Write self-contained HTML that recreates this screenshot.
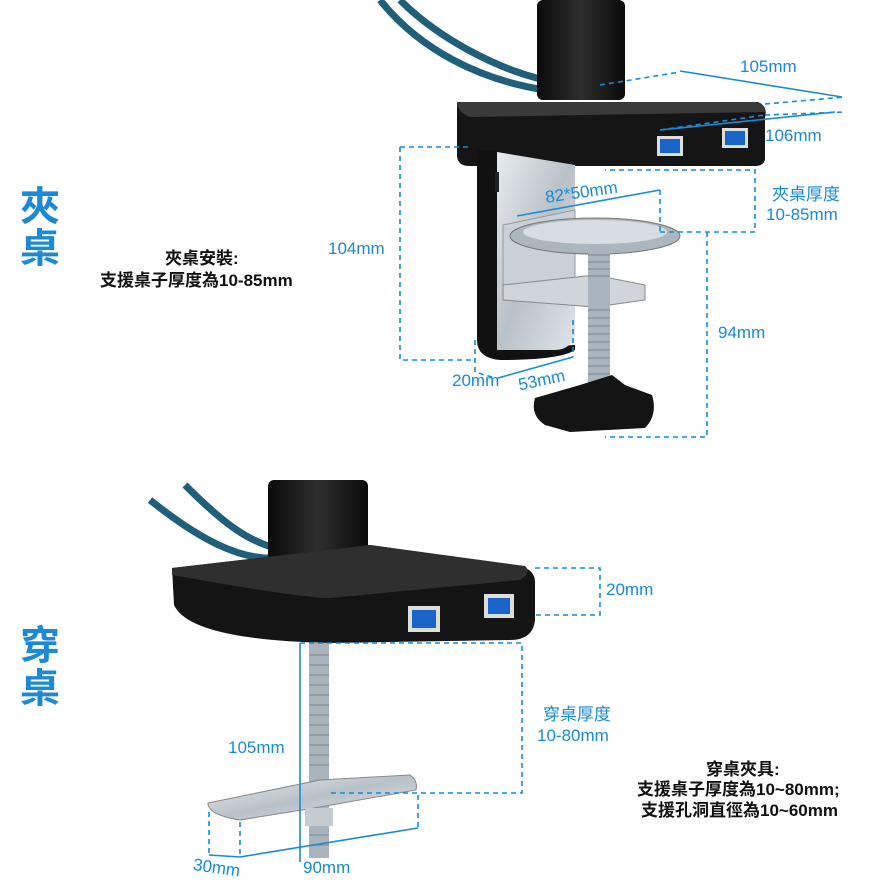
<!DOCTYPE html>
<html><head><meta charset="utf-8"><style>
html,body{margin:0;padding:0;background:#fff;width:885px;height:885px;overflow:hidden}
svg{display:block}
.b{fill:#1a8ad6;font-family:"Liberation Sans","Noto Sans CJK TC",sans-serif;font-size:17px}
.k{fill:#111;font-family:"Liberation Sans","Noto Sans CJK TC",sans-serif;font-size:17px;font-weight:bold}
.big{fill:#1a8ad6;font-family:"Noto Sans CJK TC",sans-serif;font-size:40px;font-weight:bold}
.d{stroke:#1a8ad6;stroke-width:1.6;fill:none;stroke-dasharray:5,4}
.s{stroke:#1a8ad6;stroke-width:1.6;fill:none}
</style></head><body>
<svg width="885" height="885" viewBox="0 0 885 885">
<defs>
<linearGradient id="met" x1="0" y1="0" x2="1" y2="1"><stop offset="0" stop-color="#e8ecef"/><stop offset=".5" stop-color="#b9c1c8"/><stop offset="1" stop-color="#dfe4e8"/></linearGradient>
<linearGradient id="blk" x1="0" y1="0" x2="1" y2="0"><stop offset="0" stop-color="#0a0a0a"/><stop offset=".5" stop-color="#2e2e2e"/><stop offset="1" stop-color="#0a0a0a"/></linearGradient>
</defs>
<text class="big" x="20" y="220">夾</text><text class="big" x="20" y="262">桌</text>
<text class="big" x="20" y="659">穿</text><text class="big" x="20" y="702">桌</text>
<text class="k" x="165" y="264">夾桌安裝:</text>
<text class="k" x="100" y="286">支援桌子厚度為10-85mm</text>

<path d="M380,0 C420,50 480,80 545,90" stroke="#1f5f7a" stroke-width="7" fill="none"/>
<path d="M400,0 C440,40 500,70 545,80" stroke="#1f5f7a" stroke-width="7" fill="none"/>
<rect x="537" y="0" width="88" height="100" rx="6" fill="url(#blk)"/>
<path d="M457,102 L758,102 Q768,106 765,118 L765,160 Q763,166 755,166 L470,166 Q457,166 457,155 Z" fill="#151515"/>
<path d="M457,102 L755,102 Q766,104 765,112 L470,117 Q458,113 457,102Z" fill="#3a3a3a"/>
<rect x="657" y="136" width="26" height="20" fill="#ddd"/><rect x="660" y="139" width="20" height="14" fill="#1a63c9"/>
<rect x="722" y="128" width="26" height="20" fill="#ddd"/><rect x="725" y="131" width="20" height="14" fill="#1a63c9"/>
<path d="M477,150 L497,150 L497,350 L575,345 L575,350 Q560,360 500,360 Q477,358 477,340 Z" fill="#111"/>
<path d="M497,152 L575,165 L575,335 Q570,350 555,350 L497,350 Z" fill="url(#met)"/>
<rect x="495" y="172" width="4" height="20" fill="#222"/>
<path d="M503,225 L575,210 L575,290 L503,290 Z" fill="#c9d0d6" stroke="#999"/>
<ellipse cx="595" cy="236" rx="85" ry="18" fill="#aeb6bd" stroke="#777"/>
<ellipse cx="595" cy="232" rx="72" ry="12" fill="#d7dde2"/>
<path d="M503,285 L595,275 L645,285 L645,300 L595,307 L503,300 Z" fill="#cfd5da" stroke="#888"/>
<rect x="588" y="245" width="22" height="140" fill="#aab4bd"/>
<g stroke="#7b8791" stroke-width="1"><path d="M588,255h22M588,262h22M588,269h22M588,276h22M588,310h22M588,318h22M588,326h22M588,334h22M588,342h22M588,350h22M588,358h22M588,366h22M588,374h22"/></g>
<path d="M580,385 L612,375 L625,385 L652,395 Q658,415 645,428 L570,432 L545,425 Q530,415 535,398 L580,385Z" fill="#141414"/>
<path class="d" d="M600,85 L680,72 M765,104 L845,97 M660,130 L765,115 M765,115 L845,112"/>
<path class="s" d="M680,71 L842,97 M660,130 L835,112"/>
<text class="b" x="740" y="72">105mm</text>
<text class="b" x="765" y="141">106mm</text>
<path class="d" d="M400,147 L470,147 M400,147 L400,360 L472,360 M475,340 L475,372 L495,378"/>
<text class="b" x="328" y="254">104mm</text>
<path class="s" d="M498,378 L573,357 M517,216 L660,190"/>
<path class="d" d="M573,320 L573,357 M660,190 L660,232 M660,232 L755,232 L755,170 L605,170 M707,232 L707,437 L605,437"/>
<text class="b" x="452" y="386">20mm</text>
<text class="b" x="518" y="386" transform="rotate(-12 540 380)">53mm</text>
<text class="b" x="545" y="198" transform="rotate(-8 580 192)">82*50mm</text>
<text class="b" x="772" y="200">夾桌厚度</text>
<text class="b" x="766" y="220">10-85mm</text>
<text class="b" x="718" y="338">94mm</text>

<path d="M150,500 C200,540 240,560 275,558" stroke="#1f5f7a" stroke-width="7" fill="none"/>
<path d="M185,485 C220,520 245,540 275,548" stroke="#1f5f7a" stroke-width="7" fill="none"/>
<rect x="268" y="480" width="100" height="95" rx="6" fill="url(#blk)"/>
<path d="M172,568 L370,545 L520,566 Q535,570 535,582 L535,620 Q533,640 510,640 L330,643 Q190,640 174,605 Z" fill="#141414"/>
<path d="M172,568 L370,545 L525,566 Q532,572 520,580 L330,598 Q300,598 172,575 Z" fill="#2f2f2f"/>
<rect x="408" y="606" width="32" height="26" fill="#ddd"/><rect x="412" y="610" width="24" height="18" fill="#1a63c9"/>
<rect x="484" y="594" width="30" height="24" fill="#ddd"/><rect x="488" y="598" width="22" height="16" fill="#1a63c9"/>
<rect x="309" y="643" width="20" height="215" fill="#a9b4bd"/>
<g stroke="#7b8791"><path d="M309,655h20M309,665h20M309,675h20M309,685h20M309,695h20M309,705h20M309,715h20M309,725h20M309,735h20M309,745h20M309,755h20M309,765h20M309,835h20M309,845h20"/></g>
<path d="M208,803 L320,780 L410,775 Q418,780 416,790 L320,807 L240,820 Q208,815 208,803Z" fill="url(#met)" stroke="#888"/>
<rect x="305" y="808" width="28" height="18" fill="#c4ccd2"/>
<path class="d" d="M535,568 L600,568 L600,615 L535,615 M300,643 L522,643 L522,793 L330,793 M209,812 L209,855 M240,822 L240,857 M418,795 L418,828"/>
<path class="s" d="M300,643 L300,862 M209,855 L240,857 L418,828"/>
<text class="b" x="606" y="595">20mm</text>
<text class="b" x="543" y="720">穿桌厚度</text>
<text class="b" x="537" y="741">10-80mm</text>
<text class="b" x="228" y="753">105mm</text>
<text class="b" x="193" y="873" transform="rotate(8 215 868)">30mm</text>
<text class="b" x="303" y="873">90mm</text>
<text class="k" x="706" y="775">穿桌夾具:</text>
<text class="k" x="637" y="795">支援桌子厚度為10~80mm;</text>
<text class="k" x="641" y="816">支援孔洞直徑為10~60mm</text>
</svg>
</body></html>
